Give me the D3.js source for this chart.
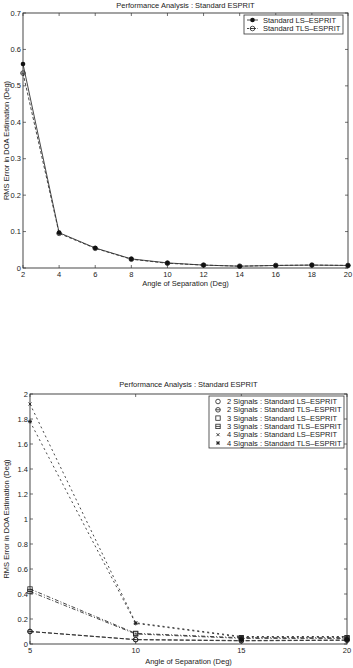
<!DOCTYPE html>
<html><head><meta charset="utf-8">
<script src="https://cdn.jsdelivr.net/npm/d3@7"></script>
<style>body{margin:0;background:#fff}svg{display:block}text{font-family:"Liberation Sans",Arial,sans-serif;fill:#222}</style>
</head><body>
<script>
// ---- Chart 1 data ----
const angles1 = [2,4,6,8,10,12,14,16,18,20];
const ls1  = [0.56,0.097,0.055,0.025,0.014,0.008,0.005,0.007,0.008,0.007];
const tls1 = [0.535,0.095,0.054,0.024,0.013,0.008,0.005,0.007,0.008,0.007];
const yTicks1 = [0,0.1,0.2,0.3,0.4,0.5,0.6,0.7];
const xTicks1 = [2,4,6,8,10,12,14,16,18,20];
const legend1 = ["Standard LS\u2013ESPRIT","Standard TLS\u2013ESPRIT"];

// ---- Chart 2 data ----
const angles2 = [5,10,15,20];
const sig2LS  = [0.10,0.035,0.025,0.03];
const sig2TLS = [0.10,0.035,0.028,0.032];
const sig3LS  = [0.44,0.085,0.05,0.05];
const sig3TLS = [0.42,0.08,0.045,0.045];
const sig4LS  = [1.92,0.17,0.06,0.06];
const sig4TLS = [1.78,0.165,0.055,0.055];
const yTicks2 = [0,0.2,0.4,0.6,0.8,1,1.2,1.4,1.6,1.8,2];
const xTicks2 = [5,10,15,20];
const legend2 = ["2 Signals : Standard LS\u2013ESPRIT","2 Signals : Standard TLS\u2013ESPRIT","3 Signals : Standard LS\u2013ESPRIT","3 Signals : Standard TLS\u2013ESPRIT","4 Signals : Standard LS\u2013ESPRIT","4 Signals : Standard TLS\u2013ESPRIT"];

const W=353,H=668;
const svg=d3.select("body").append("svg").attr("width",W).attr("height",H);

function marker(g,type,x,y){
  const s=2.2;
  if(type==="dot"){g.append("circle").attr("cx",x).attr("cy",y).attr("r",2.3).attr("fill","#111");}
  else if(type==="circle"){g.append("circle").attr("cx",x).attr("cy",y).attr("r",2.3).attr("fill","none").attr("stroke","#222").attr("stroke-width",0.8);}
  else if(type==="thetacircle"){g.append("circle").attr("cx",x).attr("cy",y).attr("r",2.3).attr("fill","none").attr("stroke","#222").attr("stroke-width",0.8);
    g.append("line").attr("x1",x-2.3).attr("x2",x+2.3).attr("y1",y).attr("y2",y).attr("stroke","#222").attr("stroke-width",0.8);}
  else if(type==="square"){g.append("rect").attr("x",x-s).attr("y",y-s).attr("width",2*s).attr("height",2*s).attr("fill","none").attr("stroke","#222").attr("stroke-width",0.8);}
  else if(type==="thetasquare"){g.append("rect").attr("x",x-s).attr("y",y-s).attr("width",2*s).attr("height",2*s).attr("fill","none").attr("stroke","#222").attr("stroke-width",0.8);
    g.append("line").attr("x1",x-s).attr("x2",x+s).attr("y1",y).attr("y2",y).attr("stroke","#222").attr("stroke-width",0.8);}
  else if(type==="x"){g.append("path").attr("d",`M${x-1.5},${y-1.5}L${x+1.5},${y+1.5}M${x-1.5},${y+1.5}L${x+1.5},${y-1.5}`).attr("stroke","#222").attr("stroke-width",0.9);}
  else if(type==="star"){g.append("path").attr("d",`M${x-1.6},${y-1.6}L${x+1.6},${y+1.6}M${x-1.6},${y+1.6}L${x+1.6},${y-1.6}M${x-2},${y}L${x+2},${y}M${x},${y-2}L${x},${y+2}`).attr("stroke","#222").attr("stroke-width",0.9);}
}

function frame(cfg){
  const {x,y,xTicks,yTicks,title,titleY,xlab,xlabY,ylabX,fmtY}=cfg;
  const [x0,x1]=x.range(),[y0,y1]=y.range();
  const g=svg.append("g");
  g.append("rect").attr("x",x0).attr("y",y1).attr("width",x1-x0).attr("height",y0-y1).attr("fill","none").attr("stroke","#333").attr("stroke-width",0.9);
  const tl=3;
  xTicks.forEach(t=>{
    const px=x(t);
    g.append("line").attr("x1",px).attr("x2",px).attr("y1",y0).attr("y2",y0-tl).attr("stroke","#333").attr("stroke-width",0.7);
    g.append("line").attr("x1",px).attr("x2",px).attr("y1",y1).attr("y2",y1+tl).attr("stroke","#333").attr("stroke-width",0.7);
    g.append("text").attr("x",px).attr("y",y0+9).attr("text-anchor","middle").attr("font-size",7.5).text(t);
  });
  yTicks.forEach(t=>{
    const py=y(t);
    g.append("line").attr("x1",x0).attr("x2",x0+tl).attr("y1",py).attr("y2",py).attr("stroke","#333").attr("stroke-width",0.7);
    g.append("line").attr("x1",x1).attr("x2",x1-tl).attr("y1",py).attr("y2",py).attr("stroke","#333").attr("stroke-width",0.7);
    g.append("text").attr("x",x0-2).attr("y",py+2.5).attr("text-anchor","end").attr("font-size",7.5).text(fmtY(t));
  });
  g.append("text").attr("x",(x0+x1)/2).attr("y",titleY).attr("text-anchor","middle").attr("font-size",7.5).text(title);
  g.append("text").attr("x",(x0+x1)/2).attr("y",xlabY).attr("text-anchor","middle").attr("font-size",7.5).text(xlab);
  g.append("text").attr("transform",`translate(${ylabX},${(y0+y1)/2}) rotate(-90)`).attr("text-anchor","middle").attr("font-size",7.5).text("RMS Error in DOA Estimation (Deg)");
  return g;
}

function series(g,x,y,xs,ys,dash,mk){
  const line=d3.line().x((d,i)=>x(xs[i])).y(d=>y(d));
  g.append("path").attr("d",line(ys)).attr("fill","none").attr("stroke","#333").attr("stroke-width",0.9).attr("stroke-dasharray",dash);
  ys.forEach((v,i)=>marker(g,mk,x(xs[i]),y(v)));
}

// ---- Chart 1 ----
const x1s=d3.scaleLinear().domain([2,20]).range([23,348]);
const y1s=d3.scaleLinear().domain([0,0.7]).range([268,13]);
const g1=frame({x:x1s,y:y1s,xTicks:xTicks1,yTicks:yTicks1,title:"Performance Analysis : Standard ESPRIT",titleY:8,
  xlab:"Angle of Separation (Deg)",xlabY:286,ylabX:9,fmtY:d=>d===0?"0":d3.format(".1f")(d)});
series(g1,x1s,y1s,angles1,tls1,"3,2","thetacircle");
series(g1,x1s,y1s,angles1,ls1,null,"dot");
// legend 1
{
  const lx=244,ly=15,lw=99,lh=19;
  g1.append("rect").attr("x",lx).attr("y",ly).attr("width",lw).attr("height",lh).attr("fill","#fff").attr("stroke","#333").attr("stroke-width",0.8);
  legend1.forEach((t,i)=>{
    const cy=ly+5+i*8.5;
    g1.append("line").attr("x1",lx+3).attr("x2",lx+14).attr("y1",cy).attr("y2",cy).attr("stroke","#333").attr("stroke-width",0.9).attr("stroke-dasharray",i?"2,1.5":null);
    marker(g1,i?"thetacircle":"dot",lx+8.5,cy);
    g1.append("text").attr("x",lx+19).attr("y",cy+2.6).attr("font-size",7.5).text(t);
  });
}

// ---- Chart 2 ----
const x2s=d3.scaleLinear().domain([5,20]).range([30,347]);
const y2s=d3.scaleLinear().domain([0,2]).range([644,394]);
const g2=frame({x:x2s,y:y2s,xTicks:xTicks2,yTicks:yTicks2,title:"Performance Analysis : Standard ESPRIT",titleY:387,
  xlab:"Angle of Separation (Deg)",xlabY:664,ylabX:9,fmtY:d=>d3.format("~g")(d)});
series(g2,x2s,y2s,angles2,sig2LS,"4,2","circle");
series(g2,x2s,y2s,angles2,sig2TLS,"4,2","thetacircle");
series(g2,x2s,y2s,angles2,sig3LS,"4,2,1,2","square");
series(g2,x2s,y2s,angles2,sig3TLS,"4,2,1,2","thetasquare");
series(g2,x2s,y2s,angles2,sig4LS,"2,3","x");
series(g2,x2s,y2s,angles2,sig4TLS,"2,3","star");
[15,20].forEach(a=>marker(g2,"dot",x2s(a),y2s(0.035)));
// legend 2
{
  const lx=209,ly=396,lw=135,lh=52;
  const mks=["circle","thetacircle","square","thetasquare","x","star"];
  g2.append("rect").attr("x",lx).attr("y",ly).attr("width",lw).attr("height",lh).attr("fill","#fff").attr("stroke","#333").attr("stroke-width",0.8);
  legend2.forEach((t,i)=>{
    const cy=ly+5.5+i*8.3;
    marker(g2,mks[i],lx+9,cy);
    g2.append("text").attr("x",lx+18).attr("y",cy+2.6).attr("font-size",7.5).text(t);
  });
}
</script>
</body></html>
